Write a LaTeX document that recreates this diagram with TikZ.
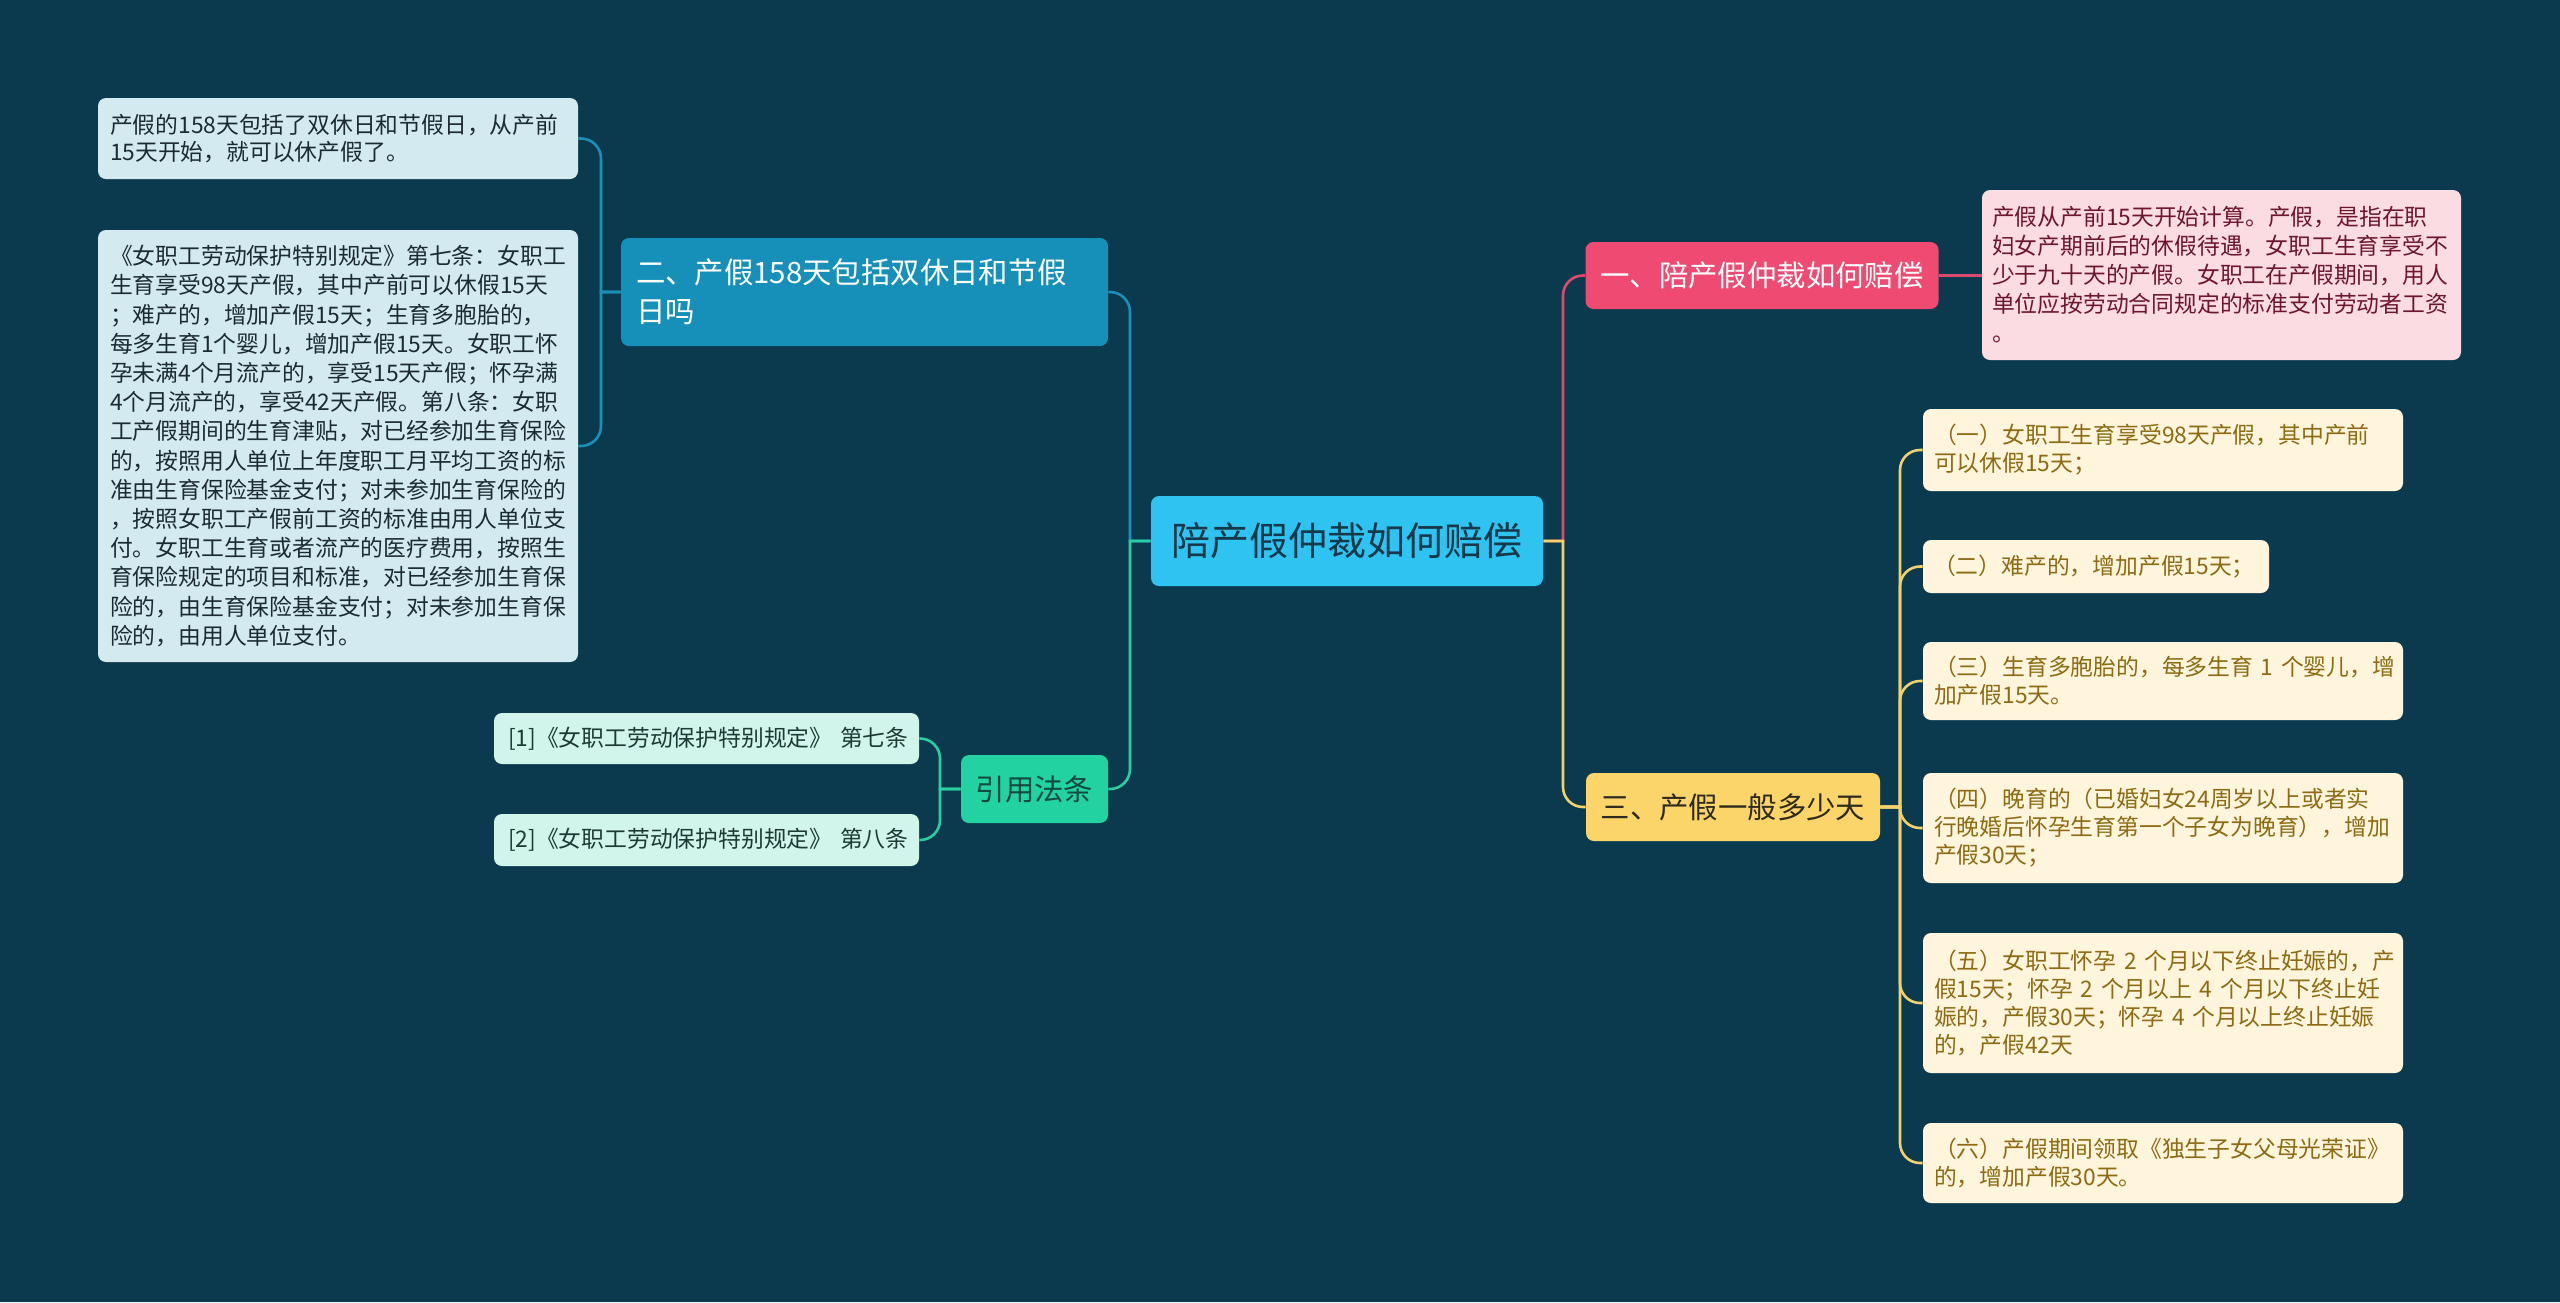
\documentclass[tikz,border=0pt]{standalone}
\usepackage{fontspec}
\setmainfont{Noto Sans CJK SC}
\definecolor{bg}{HTML}{0B3A4E}
\definecolor{rootc}{HTML}{2FC3F1}
\definecolor{roottx}{HTML}{15384A}
\definecolor{redc}{HTML}{EE4A72}
\definecolor{pinkl}{HTML}{FBDCE3}
\definecolor{pinktx}{HTML}{6E1530}
\definecolor{yelc}{HTML}{FCD56A}
\definecolor{yeltx}{HTML}{2E2A1E}
\definecolor{creaml}{HTML}{FEF5DC}
\definecolor{creamtx}{HTML}{8E6A12}
\definecolor{bluec}{HTML}{1690B9}
\definecolor{bluel}{HTML}{D3EAF1}
\definecolor{bluetx}{HTML}{1C2A33}
\definecolor{greenc}{HTML}{22D2A0}
\definecolor{greentx}{HTML}{124A3E}
\definecolor{mintl}{HTML}{D2F5EB}
\definecolor{minttx}{HTML}{1E3A36}
\definecolor{redln}{HTML}{DE4A6E}
\definecolor{yelln}{HTML}{F2D16C}
\definecolor{blueln}{HTML}{1C8FB8}
\definecolor{greenln}{HTML}{29CFA0}
\tikzset{
  box/.style={rounded corners=4pt, inner sep=0pt},
  rootbox/.style={box, fill=rootc, text=roottx, align=center, font=\fontsize{19.5}{24}\selectfont},
  branchbox/.style={box, align=center, font=\fontsize{14.7}{19.5}\selectfont},
  leafbox/.style={box, align=left, inner xsep=5.5pt, font=\fontsize{11.4}{14}\selectfont},
  conn/.style={line width=1.3pt},
}
\begin{document}
\begin{tikzpicture}[x=0.5pt,y=-0.5pt]
\fill[bg] (0,0) rectangle (2560,1302);
\useasboundingbox (0,0) rectangle (2560,1302);
% root
\node[rootbox, minimum width=196pt, minimum height=45pt] (root) at (1347,541) {陪产假仲裁如何赔偿};
% right side
\node[branchbox, fill=redc, text=white, minimum width=176.5pt, minimum height=33.5pt] (b1) at (1762,275.5) {一、陪产假仲裁如何赔偿};
\node[leafbox, fill=pinkl, text=pinktx, inner xsep=5pt, text width=229.5pt, minimum height=85pt, font=\fontsize{11.4}{14.5}\selectfont] (pl) at (2221.5,275) {产假从产前15天开始计算。产假，是指在职\\妇女产期前后的休假待遇，女职工生育享受不\\少于九十天的产假。女职工在产假期间，用人\\单位应按劳动合同规定的标准支付劳动者工资\\。};
\node[branchbox, fill=yelc, text=yeltx, minimum width=147pt, minimum height=34pt] (b3) at (1733,807) {三、产假一般多少天};
\node[leafbox, fill=creaml, text=creamtx, text width=229pt, minimum height=41pt] (c1) at (2163,450) {（一）女职工生育享受98天产假，其中产前\\可以休假15天；};
\node[leafbox, fill=creaml, text=creamtx, inner xsep=5pt, text width=163pt, minimum height=26.5pt] (c2) at (2096,566.5) {（二）难产的，增加产假15天；};
\node[leafbox, fill=creaml, text=creamtx, text width=229pt, minimum height=39pt] (c3) at (2163,681) {（三）生育多胞胎的，每多生育~1~个婴儿，增\\加产假15天。};
\node[leafbox, fill=creaml, text=creamtx, text width=229pt, minimum height=55pt] (c4) at (2163,828) {（四）晚育的（已婚妇女24周岁以上或者实\\行晚婚后怀孕生育第一个子女为晚育），增加\\产假30天；};
\node[leafbox, fill=creaml, text=creamtx, text width=229pt, minimum height=70pt] (c5) at (2163,1003) {（五）女职工怀孕~2~个月以下终止妊娠的，产\\假15天；怀孕~2~个月以上~4~个月以下终止妊\\娠的，产假30天；怀孕~4~个月以上终止妊娠\\的，产假42天};
\node[leafbox, fill=creaml, text=creamtx, text width=229pt, minimum height=40pt] (c6) at (2163,1163) {（六）产假期间领取《独生子女父母光荣证》\\的，增加产假30天。};
% left side
\node[branchbox, fill=bluec, text=white, align=left, inner xsep=7.5pt, text width=228.5pt, minimum height=54pt] (b2) at (864.5,292) {二、产假158天包括双休日和节假\\日吗};
\node[leafbox, fill=bluel, text=bluetx, inner xsep=6pt, text width=228pt, minimum height=40.5pt, font=\fontsize{11.4}{13.5}\selectfont] (tl) at (338,138.5) {产假的158天包括了双休日和节假日，从产前\\15天开始，就可以休产假了。};
\node[leafbox, fill=bluel, text=bluetx, inner xsep=6pt, text width=228pt, minimum height=216pt, font=\fontsize{11.4}{14.6}\selectfont] (bl) at (338,446) {《女职工劳动保护特别规定》第七条：女职工\\生育享受98天产假，其中产前可以休假15天\\；难产的，增加产假15天；生育多胞胎的，\\每多生育1个婴儿，增加产假15天。女职工怀\\孕未满4个月流产的，享受15天产假；怀孕满\\4个月流产的，享受42天产假。第八条：女职\\工产假期间的生育津贴，对已经参加生育保险\\的，按照用人单位上年度职工月平均工资的标\\准由生育保险基金支付；对未参加生育保险的\\，按照女职工产假前工资的标准由用人单位支\\付。女职工生育或者流产的医疗费用，按照生\\育保险规定的项目和标准，对已经参加生育保\\险的，由生育保险基金支付；对未参加生育保\\险的，由用人单位支付。};
\node[branchbox, fill=greenc, text=greentx, minimum width=73.5pt, minimum height=34pt] (cite) at (1034.5,789) {引用法条};
\node[leafbox, fill=mintl, text=minttx, inner xsep=7pt, text width=198.5pt, minimum height=25.5pt] (r1) at (706.5,738.5) {[1]《女职工劳动保护特别规定》~第七条};
\node[leafbox, fill=mintl, text=minttx, inner xsep=7pt, text width=198.5pt, minimum height=26pt] (r2) at (706.5,840) {[2]《女职工劳动保护特别规定》~第八条};
% spines
\coordinate (rs) at (1563,0);
\coordinate (ys) at (1900,0);
\coordinate (ls) at (1130,0);
\coordinate (bs) at (601,0);
\coordinate (cs) at (940,0);
% connectors
\draw[conn, redln] (root.east) -- (root.east -| rs) [rounded corners=10pt] -- (b1.west -| rs) -- (b1.west);
\draw[conn, yelln] (root.east) -- (root.east -| rs) [rounded corners=10pt] -- (b3.west -| rs) -- (b3.west);
\draw[conn, redln] (b1.east) -- (b1.east -| pl.west);
\foreach \c in {c1,c2,c3,c4,c5,c6}
  \draw[conn, yelln] (b3.east) -- (b3.east -| ys) [rounded corners=10pt] -- (\c.west -| ys) -- (\c.west);
\draw[conn, blueln] (root.west) -- (root.west -| ls) [rounded corners=10pt] -- (b2.east -| ls) -- (b2.east);
\draw[conn, greenln] (root.west) -- (root.west -| ls) [rounded corners=10pt] -- (cite.east -| ls) -- (cite.east);
\foreach \c in {tl,bl}
  \draw[conn, blueln] (b2.west) -- (b2.west -| bs) [rounded corners=10pt] -- (\c.east -| bs) -- (\c.east);
\foreach \c in {r1,r2}
  \draw[conn, greenln] (cite.west) -- (cite.west -| cs) [rounded corners=10pt] -- (\c.east -| cs) -- (\c.east);
\end{tikzpicture}
\end{document}
